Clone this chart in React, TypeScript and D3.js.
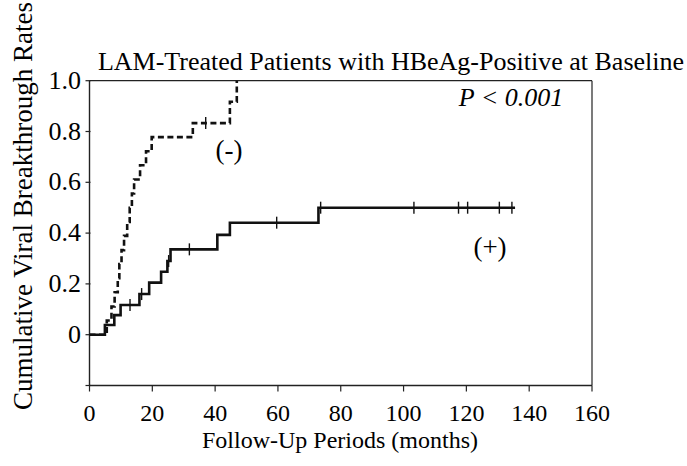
import * as d3 from 'd3';
import React from 'react';

// KM-type step curves: [month, cumulative rate]
const negSteps: [number, number][] = [
  [0, 0], [5.5, 0.056], [7, 0.111], [8, 0.167], [9, 0.222], [9.5, 0.278],
  [10.2, 0.333], [11, 0.389], [12, 0.444], [12.8, 0.5], [13.5, 0.556],
  [14.2, 0.611], [16.1, 0.667], [18, 0.722], [19.8, 0.778], [32.9, 0.833],
  [44.7, 0.917], [46.9, 1.0],
];
const negEnd = 46.9;
const negCensor: [number, number][] = [[37, 0.833]];

const posSteps: [number, number][] = [
  [0, 0], [4.9, 0.038], [7.9, 0.077], [9.9, 0.117], [15.9, 0.16],
  [19, 0.205], [22.8, 0.248], [24.8, 0.29], [25.8, 0.336], [40.7, 0.393],
  [44.7, 0.441], [72.9, 0.5],
];
const posEnd = 135.5;
const posCensor: [number, number][] = [
  [12.9, 0.117], [16.6, 0.16], [25.2, 0.29], [31.8, 0.336], [59.6, 0.441],
  [73.6, 0.5], [103.3, 0.5], [117.5, 0.5], [120.4, 0.5], [130.5, 0.5], [134.5, 0.5],
];

const xTicks = [0, 20, 40, 60, 80, 100, 120, 140, 160];
const yTicks = [-0.2, 0, 0.2, 0.4, 0.6, 0.8, 1.0];
const yTickLabels = ['', '0', '0.2', '0.4', '0.6', '0.8', '1.0'];

const W = 687;
const H = 466;
const font = '"Liberation Serif", "Times New Roman", serif';

export default function App() {
  const x = d3.scaleLinear().domain([0, 160]).range([89.5, 592]);
  const y = d3.scaleLinear().domain([0, 1]).range([334.7, 80.7]);

  const line = d3.line<[number, number]>()
    .x(d => x(d[0]))
    .y(d => y(d[1]))
    .curve(d3.curveStepAfter);

  const negPath = line([...negSteps, [negEnd, 1.0]]);
  const posPath = line([...posSteps, [posEnd, 0.5]]);

  const left = x(0), right = x(160), top = y(1), bottom = y(-0.2);

  const cross = (c: [number, number], i: number) => (
    <line key={i} x1={x(c[0])} x2={x(c[0])} y1={y(c[1]) - 6} y2={y(c[1]) + 6}
      stroke="#111" strokeWidth={1.4} />
  );

  return (
    <svg width={W} height={H} style={{ position: 'absolute', left: 0, top: 0, background: '#fff' }}
      fontFamily={font}>
      {/* frame */}
      <line x1={left} x2={right} y1={top} y2={top} stroke="#222" strokeWidth={1.2} />
      <line x1={right} x2={right} y1={top} y2={bottom} stroke="#222" strokeWidth={1.2} />
      <line x1={left} x2={left} y1={top} y2={bottom} stroke="#222" strokeWidth={1.4} />
      <line x1={left} x2={right} y1={bottom} y2={bottom} stroke="#222" strokeWidth={1.4} />

      {/* ticks */}
      {xTicks.map(t => (
        <g key={'x' + t}>
          <line x1={x(t)} x2={x(t)} y1={bottom} y2={bottom + 6} stroke="#222" strokeWidth={1.2} />
          <text x={x(t)} y={421} textAnchor="middle" fontSize={24}>{t}</text>
        </g>
      ))}
      {yTicks.map((t, i) => (
        <g key={'y' + t}>
          <line x1={left - 4} x2={left + 1} y1={y(t)} y2={y(t)} stroke="#222" strokeWidth={1.2} />
          <text x={81} y={y(t) + 8} textAnchor="end" fontSize={26}>{yTickLabels[i]}</text>
        </g>
      ))}

      {/* curves */}
      <path d={posPath || ''} fill="none" stroke="#111" strokeWidth={2.6} />
      <path d={negPath || ''} fill="none" stroke="#111" strokeWidth={2.6} strokeDasharray="6,3.5" />
      {posCensor.map(cross)}
      {negCensor.map(cross)}

      {/* texts */}
      <text x={391} y={70} textAnchor="middle" fontSize={26}>
        LAM-Treated Patients with HBeAg-Positive at Baseline
      </text>
      <text x={511} y={106} textAnchor="middle" fontSize={26} fontStyle="italic">P &lt; 0.001</text>
      <text x={229} y={159} textAnchor="middle" fontSize={27}>(-)</text>
      <text x={490} y={256} textAnchor="middle" fontSize={27}>(+)</text>
      <text x={340} y={448} textAnchor="middle" fontSize={24}>Follow-Up Periods (months)</text>
      <text transform={`translate(32,${206}) rotate(-90)`} textAnchor="middle" fontSize={27}>
        Cumulative Viral Breakthrough Rates
      </text>
    </svg>
  );
}
